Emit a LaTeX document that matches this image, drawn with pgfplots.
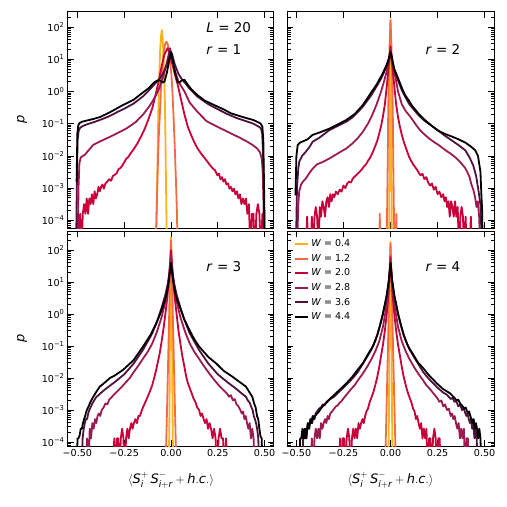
\documentclass[border=0pt]{standalone}
\usepackage{amsmath}
\usepackage{pgfplots}
\pgfplotsset{compat=1.18}
\usepackage{fontspec}
\setmainfont{DejaVu Sans}
\definecolor{cA}{HTML}{FCB31A}
\definecolor{cB}{HTML}{F26B46}
\definecolor{cC}{HTML}{C70039}
\definecolor{cD}{HTML}{9B1B50}
\definecolor{cE}{HTML}{4E1240}
\definecolor{cF}{HTML}{000000}
\pgfplotsset{
  wA/.style={color=cA,line width=1.8pt,line join=round},
  wB/.style={color=cB,line width=1.8pt,line join=round},
  wC/.style={color=cC,line width=1.8pt,line join=round},
  wD/.style={color=cD,line width=1.8pt,line join=round},
  wE/.style={color=cE,line width=1.8pt,line join=round},
  wF/.style={color=cF,line width=1.8pt,line join=round},
  myPanel/.style={
    scale only axis, anchor=north west,
    xmin=-0.55, xmax=0.55,
    xtick={-0.5,-0.25,0,0.25,0.5},
    ytick={1e-4,1e-3,1e-2,1e-1,1,10,100},
    minor ytick={2e-5,3e-5,4e-5,5e-5,6e-5,7e-5,8e-5,9e-5,2e-4,3e-4,4e-4,5e-4,6e-4,7e-4,8e-4,9e-4,2e-3,3e-3,4e-3,5e-3,6e-3,7e-3,8e-3,9e-3,0.02,0.03,0.04,0.05,0.06,0.07,0.08,0.09,0.2,0.3,0.4,0.5,0.6,0.7,0.8,0.9,2,3,4,5,6,7,8,9,20,30,40,50,60,70,80,90,200,300,400,500},
    tick align=inside, major tick length=6pt, minor tick length=3.5pt,
    tick style={black, line width=0.8pt},
    axis line style={line width=1pt},
    tick label style={font=\fontsize{9.6}{11}\selectfont},
    xticklabels={},
    yticklabels={},
  },
  myTop/.style={height=216.3pt, ymin=5.8e-5, ymax=298},
  myBot/.style={height=215pt, ymin=7.5e-5, ymax=393,
    xticklabels={−0.50,−0.25,0.00,0.25,0.50},
    xlabel={\fontsize{13}{15}\selectfont $\langle \textit{S}_{\textit{i}}^{+}\,\textit{S}_{\textit{i}+\textit{r}}^{-} + \textit{h}.\textit{c}.\rangle$},
    xlabel style={at={(axis description cs:0.5,-0.158)}, anchor=center}},
  myLeft/.style={width=206pt,
    yticklabels={10\textsuperscript{−4},10\textsuperscript{−3},10\textsuperscript{−2},10\textsuperscript{−1},10\textsuperscript{0},10\textsuperscript{1},10\textsuperscript{2}},
    ylabel={\fontsize{13}{15}\selectfont\textit{p}},
    ylabel style={at={(axis description cs:-0.223,0.5)}, anchor=center}},
  myRight/.style={width=207pt},
}
\begin{document}
\begin{tikzpicture}
\path[use as bounding box] (0pt,0pt) rectangle (507pt,-507pt);
% ---------------- r = 1 ----------------
\begin{axis}[ymode=log, myPanel, myTop, myLeft, at={(68pt,-11.7pt)}]
\addplot[wA] coordinates {(-0.082,1e-5) (-0.078,8e-5) (-0.074,1e-3) (-0.070,4e-2) (-0.066,0.6) (-0.062,4) (-0.058,18) (-0.054,50) (-0.049,80) (-0.045,50) (-0.041,18) (-0.037,4) (-0.033,0.6) (-0.030,5e-2) (-0.027,2e-3) (-0.024,1e-4) (-0.022,1e-5)};
\addplot[wB] coordinates {(-0.081,1e-5) (-0.078,8e-5) (-0.074,8e-4) (-0.069,1e-2) (-0.064,6e-2) (-0.058,0.3) (-0.052,2) (-0.046,6) (-0.039,16) (-0.032,28) (-0.025,35) (-0.018,30) (-0.011,18) (-0.004,7) (0.002,3.5) (0.008,0.9) (0.014,0.15) (0.020,2e-2) (0.026,2e-3) (0.031,2.5e-4) (0.036,1e-5)};
\addplot[wC] coordinates {(-0.505,1e-5) (-0.498,1.6e-4) (-0.492,1e-5) (-0.485,1.6e-4) (-0.478,1e-5) (-0.471,1.6e-4) (-0.464,3.2e-4) (-0.457,1.6e-4) (-0.450,4.8e-4) (-0.443,1.6e-4) (-0.436,4.8e-4) (-0.429,3.2e-4) (-0.422,6.4e-4) (-0.415,3.2e-4) (-0.408,8e-4) (-0.401,4.8e-4) (-0.394,6.4e-4) (-0.387,1.1e-3) (-0.380,8e-4) (-0.373,1.1e-3) (-0.366,1.3e-3) (-0.359,9.6e-4) (-0.350,1.4e-3) (-0.340,1.6e-3) (-0.330,1.9e-3) (-0.320,1.7e-3) (-0.310,2.4e-3) (-0.300,2.6e-3) (-0.290,2.9e-3) (-0.280,3.9e-3) (-0.270,4.2e-3) (-0.260,5e-3) (-0.250,6.3e-3) (-0.240,8e-3) (-0.230,9e-3) (-0.220,1.1e-2) (-0.200,1.6e-2) (-0.180,2.4e-2) (-0.160,4e-2) (-0.140,7e-2) (-0.120,0.14) (-0.100,0.3) (-0.080,0.9) (-0.065,2.2) (-0.050,6) (-0.035,14) (-0.018,22) (-0.008,16) (0.000,10) (0.010,6) (0.020,3.5) (0.036,1.6) (0.050,0.7) (0.072,0.19) (0.090,0.08) (0.107,0.045) (0.125,0.026) (0.142,0.017) (0.160,0.012) (0.180,8.5e-3) (0.195,6.6e-3) (0.210,5e-3) (0.225,4e-3) (0.235,3.6e-3) (0.248,2.5e-3) (0.256,2.8e-3) (0.264,1.9e-3) (0.272,2.2e-3) (0.280,1.6e-3) (0.288,1.9e-3) (0.296,1.3e-3) (0.304,1.4e-3) (0.312,9.6e-4) (0.320,1.1e-3) (0.328,8e-4) (0.336,9.6e-4) (0.344,6.4e-4) (0.352,8e-4) (0.360,4.8e-4) (0.368,6.4e-4) (0.376,3.2e-4) (0.384,4.8e-4) (0.392,3.2e-4) (0.400,4.8e-4) (0.408,1.6e-4) (0.416,3.2e-4) (0.424,1e-5) (0.432,1.6e-4) (0.440,1.6e-4) (0.448,1e-5) (0.456,1.6e-4) (0.464,3.2e-4) (0.472,1.6e-4) (0.480,1e-5) (0.488,1.6e-4) (0.496,1e-5)};
\addplot[wD] coordinates {(-0.498,1e-5) (-0.494,1e-3) (-0.489,6e-3) (-0.482,9e-3) (-0.470,1e-2) (-0.459,1.1e-2) (-0.440,1.5e-2) (-0.415,2.2e-2) (-0.380,2.8e-2) (-0.326,3.9e-2) (-0.280,5.3e-2) (-0.238,7.1e-2) (-0.190,0.11) (-0.150,0.19) (-0.120,0.32) (-0.100,0.48) (-0.079,0.78) (-0.060,1.4) (-0.045,2.5) (-0.030,5) (-0.015,12) (-0.005,22) (0.005,12) (0.020,4.5) (0.040,2.0) (0.072,1.0) (0.100,0.45) (0.142,0.23) (0.190,0.12) (0.230,0.09) (0.280,0.065) (0.320,0.05) (0.370,0.036) (0.410,0.027) (0.440,0.021) (0.460,0.017) (0.475,0.013) (0.485,8e-3) (0.490,3e-3) (0.494,3e-4) (0.497,1e-5)};
\addplot[wE] coordinates {(-0.507,1e-5) (-0.503,1e-3) (-0.499,3e-2) (-0.493,6e-2) (-0.485,7.5e-2) (-0.470,8.5e-2) (-0.450,9.5e-2) (-0.415,0.11) (-0.380,0.13) (-0.330,0.17) (-0.280,0.24) (-0.250,0.29) (-0.200,0.42) (-0.150,0.7) (-0.120,1.05) (-0.100,1.4) (-0.080,1.9) (-0.060,2.5) (-0.040,3.8) (-0.020,7.5) (-0.005,17) (0.005,15) (0.020,7) (0.040,3.5) (0.060,2.3) (0.080,1.7) (0.100,1.2) (0.140,0.7) (0.200,0.4) (0.250,0.28) (0.300,0.2) (0.350,0.15) (0.400,0.12) (0.440,0.1) (0.470,0.08) (0.480,0.072) (0.487,0.05) (0.492,1e-2) (0.496,1e-3) (0.500,1e-5)};
\addplot[wF] coordinates {(-0.504,1.6e-3) (-0.500,5e-2) (-0.495,9e-2) (-0.488,0.105) (-0.475,0.115) (-0.450,0.125) (-0.415,0.14) (-0.380,0.16) (-0.330,0.22) (-0.256,0.38) (-0.200,0.55) (-0.167,0.78) (-0.120,1.25) (-0.090,1.9) (-0.072,2.2) (-0.058,2.2) (-0.045,1.9) (-0.035,2.0) (-0.022,3.8) (-0.010,9) (0.000,17) (0.010,9) (0.022,3.8) (0.035,2.0) (0.045,1.9) (0.058,2.2) (0.072,2.3) (0.090,1.6) (0.110,1.15) (0.140,0.78) (0.180,0.52) (0.230,0.38) (0.280,0.28) (0.320,0.21) (0.370,0.17) (0.410,0.145) (0.440,0.13) (0.460,0.115) (0.478,0.102) (0.488,0.08) (0.493,3e-2) (0.497,1e-3) (0.499,1.2e-4) (0.500,1e-5)};
\node[anchor=west, font=\fontsize{13.5}{15}\selectfont] at (rel axis cs:0.655,0.926) {\textit{L} = 20};
\node[anchor=west, font=\fontsize{13.5}{15}\selectfont] at (rel axis cs:0.655,0.824) {\textit{r} = 1};
\end{axis}
% ---------------- r = 2 ----------------
\begin{axis}[ymode=log, myPanel, myTop, myRight, at={(287pt,-11.7pt)}]
\addplot[wA] coordinates {(-0.008,1e-5) (-0.005,1e-2) (-0.003,20) (0.000,170) (0.003,20) (0.005,1e-2) (0.008,1e-5)};
\addplot[wB] coordinates {(-0.060,1e-5) (-0.057,1.6e-4) (-0.054,1e-5) (-0.022,1e-5) (-0.018,2e-4) (-0.015,5e-3) (-0.012,0.3) (-0.008,5) (-0.004,40) (0.000,160) (0.004,40) (0.008,5) (0.012,0.3) (0.015,5e-3) (0.018,2e-4) (0.022,1e-5) (0.028,1e-5) (0.031,1.6e-4) (0.034,1e-5)};
\addplot[wC] coordinates {(-0.450,1e-5) (-0.443,1.3e-4) (-0.436,1e-5) (-0.425,1e-5) (-0.418,1.3e-4) (-0.411,1e-5) (-0.404,1.3e-4) (-0.397,2.6e-4) (-0.390,1.3e-4) (-0.383,1e-5) (-0.376,2.6e-4) (-0.369,1.3e-4) (-0.362,3.9e-4) (-0.355,2.6e-4) (-0.348,1.3e-4) (-0.341,3.9e-4) (-0.334,5.2e-4) (-0.327,2.6e-4) (-0.320,6.5e-4) (-0.313,3.9e-4) (-0.306,6.5e-4) (-0.299,5.2e-4) (-0.290,7.8e-4) (-0.280,6.5e-4) (-0.270,9e-4) (-0.260,7.8e-4) (-0.250,1.2e-3) (-0.240,1e-3) (-0.230,1.4e-3) (-0.220,1.6e-3) (-0.210,1.5e-3) (-0.200,2e-3) (-0.190,2.3e-3) (-0.180,2.6e-3) (-0.170,3e-3) (-0.160,3.4e-3) (-0.150,4e-3) (-0.140,4.8e-3) (-0.130,5.5e-3) (-0.120,7e-3) (-0.110,8.5e-3) (-0.100,1.1e-2) (-0.090,1.5e-2) (-0.080,2.1e-2) (-0.070,3e-2) (-0.060,5e-2) (-0.050,8.5e-2) (-0.040,0.17) (-0.030,0.4) (-0.020,1.4) (-0.010,6) (0.000,25) (0.010,6) (0.020,1.5) (0.030,0.4) (0.040,0.16) (0.050,8e-2) (0.060,4.5e-2) (0.070,2.8e-2) (0.080,1.9e-2) (0.090,1.3e-2) (0.100,9e-3) (0.110,7e-3) (0.120,5.5e-3) (0.130,4.6e-3) (0.140,3.8e-3) (0.150,3e-3) (0.160,2.5e-3) (0.170,2.8e-3) (0.180,1.9e-3) (0.190,2.2e-3) (0.200,1.5e-3) (0.210,1.2e-3) (0.220,1.4e-3) (0.230,9e-4) (0.240,1.1e-3) (0.250,6.5e-4) (0.260,7.8e-4) (0.270,5.2e-4) (0.280,6.5e-4) (0.287,3.9e-4) (0.294,5.2e-4) (0.301,2.6e-4) (0.308,3.9e-4) (0.315,1.3e-4) (0.322,3.9e-4) (0.329,2.6e-4) (0.336,1.3e-4) (0.343,3.9e-4) (0.350,1.3e-4) (0.357,2.6e-4) (0.364,1e-5) (0.371,1.3e-4) (0.378,2.6e-4) (0.385,1.3e-4) (0.392,1e-5) (0.399,1.3e-4) (0.406,1e-5) (0.420,1e-5) (0.427,1.3e-4) (0.434,1e-5)};
\addplot[wD] coordinates {(-0.497,1e-5) (-0.490,3e-4) (-0.485,8e-4) (-0.475,1.3e-3) (-0.465,1.6e-3) (-0.450,2e-3) (-0.430,3e-3) (-0.414,4e-3) (-0.390,5.5e-3) (-0.360,6.5e-3) (-0.325,8.3e-3) (-0.290,1.1e-2) (-0.260,1.4e-2) (-0.235,1.7e-2) (-0.200,2.5e-2) (-0.175,3.5e-2) (-0.147,5.6e-2) (-0.120,0.1) (-0.100,0.17) (-0.075,0.38) (-0.050,1.0) (-0.035,2) (-0.021,4) (-0.010,9) (0.000,20) (0.010,8) (0.025,3) (0.040,1.0) (0.060,0.4) (0.080,0.25) (0.100,0.18) (0.112,0.145) (0.140,0.085) (0.160,0.06) (0.183,0.045) (0.210,0.033) (0.235,0.026) (0.255,0.022) (0.280,0.017) (0.300,0.014) (0.326,0.011) (0.350,8.5e-3) (0.375,6e-3) (0.397,4.2e-3) (0.410,3e-3) (0.420,2.2e-3) (0.430,1.3e-3) (0.440,9e-4) (0.450,5e-4) (0.457,2.6e-4) (0.464,3.9e-4) (0.471,1.3e-4) (0.478,1e-5)};
\addplot[wE] coordinates {(-0.503,1e-5) (-0.497,1e-3) (-0.490,4e-3) (-0.485,6.6e-3) (-0.470,1e-2) (-0.450,1.35e-2) (-0.430,1.9e-2) (-0.414,2.75e-2) (-0.380,3.6e-2) (-0.325,6.3e-2) (-0.280,8.5e-2) (-0.235,0.115) (-0.200,0.16) (-0.170,0.24) (-0.147,0.34) (-0.120,0.55) (-0.100,0.8) (-0.075,1.4) (-0.050,2.5) (-0.030,4.5) (-0.015,7) (-0.005,12) (0.002,14) (0.010,8) (0.020,4.5) (0.040,2.2) (0.060,1.1) (0.077,0.7) (0.100,0.4) (0.112,0.33) (0.150,0.18) (0.183,0.12) (0.220,0.085) (0.255,0.06) (0.290,0.042) (0.326,0.03) (0.360,0.022) (0.397,0.015) (0.420,9e-3) (0.440,5e-3) (0.455,2.4e-3) (0.468,8e-4) (0.478,3e-4) (0.487,1e-5)};
\addplot[wF] coordinates {(-0.505,6e-4) (-0.500,1e-2) (-0.493,2.2e-2) (-0.480,2.6e-2) (-0.467,2.8e-2) (-0.440,3.3e-2) (-0.414,4.5e-2) (-0.370,5.5e-2) (-0.325,7e-2) (-0.280,9.5e-2) (-0.235,0.13) (-0.190,0.2) (-0.147,0.38) (-0.110,0.8) (-0.075,1.6) (-0.045,3.3) (-0.021,6.6) (-0.008,11) (0.000,17) (0.008,11) (0.020,5) (0.040,2.6) (0.060,1.3) (0.077,0.78) (0.100,0.5) (0.112,0.38) (0.150,0.2) (0.183,0.13) (0.220,0.085) (0.255,0.06) (0.290,0.048) (0.326,0.04) (0.360,0.033) (0.397,0.026) (0.425,0.02) (0.450,0.015) (0.465,0.01) (0.478,3.2e-3) (0.483,6e-4) (0.487,2e-4) (0.490,1e-5)};
\node[anchor=west, font=\fontsize{13.5}{15}\selectfont] at (rel axis cs:0.652,0.824) {\textit{r} = 2};
\end{axis}
% ---------------- r = 3 ----------------
\begin{axis}[ymode=log, myPanel, myBot, myLeft, at={(68pt,-231pt)}]
\addplot[wA] coordinates {(-0.012,1e-5) (-0.008,1e-3) (-0.005,1) (-0.003,50) (0.000,250) (0.003,50) (0.005,1) (0.008,1e-3) (0.012,1e-5)};
\addplot[wB] coordinates {(-0.030,1e-5) (-0.025,1.3e-4) (-0.020,2e-3) (-0.015,4e-2) (-0.010,0.8) (-0.005,20) (0.000,200) (0.005,20) (0.010,0.8) (0.015,4e-2) (0.020,2e-3) (0.025,1.3e-4) (0.030,1e-5)};
\addplot[wC] coordinates {(-0.310,1e-5) (-0.303,1.3e-4) (-0.296,1e-5) (-0.289,1.3e-4) (-0.282,1.3e-4) (-0.275,1e-5) (-0.268,1.3e-4) (-0.261,2.6e-4) (-0.254,1.3e-4) (-0.247,1e-5) (-0.240,1.3e-4) (-0.233,2.6e-4) (-0.226,1.3e-4) (-0.219,2.6e-4) (-0.212,3.9e-4) (-0.205,2.6e-4) (-0.198,3.9e-4) (-0.190,5.2e-4) (-0.182,3.9e-4) (-0.174,6.5e-4) (-0.166,6.5e-4) (-0.158,9e-4) (-0.150,1.2e-3) (-0.140,1.6e-3) (-0.130,2.2e-3) (-0.120,3e-3) (-0.110,4.2e-3) (-0.100,6e-3) (-0.090,1e-2) (-0.080,1.7e-2) (-0.070,3.2e-2) (-0.060,6e-2) (-0.050,0.14) (-0.040,0.35) (-0.030,1) (-0.020,3.2) (-0.010,15) (0.000,100) (0.010,15) (0.020,3.2) (0.030,1) (0.040,0.3) (0.050,0.12) (0.060,5e-2) (0.070,2.5e-2) (0.080,1.2e-2) (0.090,7e-3) (0.100,4.8e-3) (0.110,3.4e-3) (0.120,2.3e-3) (0.130,1.8e-3) (0.140,1.2e-3) (0.150,1e-3) (0.158,6.5e-4) (0.166,7.8e-4) (0.174,5.2e-4) (0.182,3.9e-4) (0.190,5.2e-4) (0.198,2.6e-4) (0.206,3.9e-4) (0.214,2.6e-4) (0.222,1.3e-4) (0.230,2.6e-4) (0.238,1.3e-4) (0.246,1e-5) (0.254,1.3e-4) (0.262,2.6e-4) (0.270,1.3e-4) (0.278,1.3e-4) (0.286,1e-5) (0.294,1.3e-4) (0.302,1e-5)};
\addplot[wD] coordinates {(-0.455,1e-5) (-0.448,1.3e-4) (-0.441,1e-5) (-0.434,2.6e-4) (-0.427,1.3e-4) (-0.420,3.9e-4) (-0.413,2.6e-4) (-0.406,5.2e-4) (-0.399,3.9e-4) (-0.392,6.5e-4) (-0.385,7.8e-4) (-0.378,6.5e-4) (-0.370,1e-3) (-0.360,1.2e-3) (-0.350,1.6e-3) (-0.340,1.5e-3) (-0.330,2.1e-3) (-0.320,2.4e-3) (-0.310,2.8e-3) (-0.300,3.2e-3) (-0.280,4.2e-3) (-0.260,5.5e-3) (-0.240,7.5e-3) (-0.220,1e-2) (-0.200,1.5e-2) (-0.175,2.4e-2) (-0.150,4e-2) (-0.125,6.5e-2) (-0.100,0.12) (-0.075,0.28) (-0.050,0.8) (-0.030,2.5) (-0.015,10) (0.000,60) (0.015,10) (0.030,2.5) (0.050,0.8) (0.075,0.28) (0.100,0.12) (0.125,6.5e-2) (0.150,4e-2) (0.175,2.4e-2) (0.200,1.5e-2) (0.220,1.05e-2) (0.240,7.5e-3) (0.260,5.5e-3) (0.280,4.2e-3) (0.300,3.2e-3) (0.310,2.6e-3) (0.320,2.9e-3) (0.330,2e-3) (0.340,2.2e-3) (0.350,1.5e-3) (0.360,1.3e-3) (0.370,1e-3) (0.378,7.8e-4) (0.385,9e-4) (0.392,5.2e-4) (0.399,6.5e-4) (0.406,3.9e-4) (0.413,2.6e-4) (0.420,3.9e-4) (0.427,1.3e-4) (0.434,2.6e-4) (0.441,1.3e-4) (0.448,1e-5)};
\addplot[wE] coordinates {(-0.478,1e-5) (-0.472,1.3e-4) (-0.466,2.6e-4) (-0.460,3.9e-4) (-0.454,5.2e-4) (-0.448,5.2e-4) (-0.442,7.8e-4) (-0.436,1e-3) (-0.430,1.2e-3) (-0.420,1.6e-3) (-0.410,2e-3) (-0.400,2.5e-3) (-0.380,3.2e-3) (-0.350,4.5e-3) (-0.300,7.5e-3) (-0.250,1.3e-2) (-0.200,2.8e-2) (-0.150,7.5e-2) (-0.100,0.25) (-0.070,0.7) (-0.050,1.6) (-0.030,4) (-0.015,10) (0.000,35) (0.015,10) (0.030,4) (0.050,1.6) (0.070,0.7) (0.100,0.25) (0.150,7.5e-2) (0.200,2.8e-2) (0.250,1.3e-2) (0.300,7.5e-3) (0.350,4.5e-3) (0.380,3.2e-3) (0.400,2.6e-3) (0.410,2e-3) (0.420,1.7e-3) (0.430,1.2e-3) (0.436,1e-3) (0.442,6.5e-4) (0.448,5.2e-4) (0.454,3.9e-4) (0.460,2.6e-4) (0.466,1.3e-4) (0.472,1e-5)};
\addplot[wF] coordinates {(-0.505,1e-5) (-0.499,1.3e-4) (-0.494,1.3e-4) (-0.488,1.6e-4) (-0.482,2.6e-4) (-0.476,2.6e-4) (-0.470,3.9e-4) (-0.464,5.2e-4) (-0.459,6.3e-4) (-0.452,9e-4) (-0.446,1.1e-3) (-0.440,1.3e-3) (-0.430,1.8e-3) (-0.415,2.6e-3) (-0.400,3.6e-3) (-0.380,5.4e-3) (-0.350,7.5e-3) (-0.326,1e-2) (-0.300,1.2e-2) (-0.256,1.8e-2) (-0.200,3.6e-2) (-0.150,9.5e-2) (-0.110,0.22) (-0.079,0.5) (-0.050,1.3) (-0.026,3.5) (-0.012,10) (0.000,40) (0.012,10) (0.026,3.5) (0.045,1.8) (0.070,0.7) (0.098,0.32) (0.125,0.16) (0.151,9.5e-2) (0.200,4.5e-2) (0.240,2.9e-2) (0.280,1.7e-2) (0.328,1.1e-2) (0.360,8e-3) (0.400,5.4e-3) (0.420,3.5e-3) (0.434,2.6e-3) (0.444,1.6e-3) (0.452,1.2e-3) (0.460,6.3e-4) (0.466,5.2e-4) (0.472,2.6e-4) (0.478,1.5e-4) (0.484,1.3e-4) (0.490,1e-5)};
\node[anchor=west, font=\fontsize{13.5}{15}\selectfont] at (rel axis cs:0.655,0.833) {\textit{r} = 3};
\end{axis}
% ---------------- r = 4 ----------------
\begin{axis}[ymode=log, myPanel, myBot, myRight, at={(287pt,-231pt)},
  legend style={at={(axis description cs:0.035,0.9695)}, anchor=north west, draw=none, fill=none,
    font=\fontsize{9.5}{11}\selectfont, row sep=2pt, inner sep=0pt},
  legend cell align=left,
  legend image code/.code={\draw[#1] (0pt,0pt) -- (13pt,0pt);}]
\addlegendimage{draw=cA, solid, line width=2pt}
\addlegendentry{\textit{W} = 0.4}
\addlegendimage{draw=cB, solid, line width=2pt}
\addlegendentry{\textit{W} = 1.2}
\addlegendimage{draw=cC, solid, line width=2pt}
\addlegendentry{\textit{W} = 2.0}
\addlegendimage{draw=cD, solid, line width=2pt}
\addlegendentry{\textit{W} = 2.8}
\addlegendimage{draw=cE, solid, line width=2pt}
\addlegendentry{\textit{W} = 3.6}
\addlegendimage{draw=cF, solid, line width=2pt}
\addlegendentry{\textit{W} = 4.4}
\addplot[wA, forget plot] coordinates {(-0.012,1e-5) (-0.008,1e-3) (-0.005,1) (-0.003,40) (0.000,180) (0.003,40) (0.005,1) (0.008,1e-3) (0.012,1e-5)};
\addplot[wB, forget plot] coordinates {(-0.030,1e-5) (-0.025,1.3e-4) (-0.020,2e-3) (-0.015,4e-2) (-0.010,0.8) (-0.005,20) (0.000,160) (0.005,20) (0.010,0.8) (0.015,4e-2) (0.020,2e-3) (0.025,1.3e-4) (0.030,1e-5)};
\addplot[wC, forget plot] coordinates {(-0.275,1e-5) (-0.268,1.3e-4) (-0.261,1e-5) (-0.254,1.3e-4) (-0.247,1.3e-4) (-0.240,1e-5) (-0.233,1.3e-4) (-0.226,2.6e-4) (-0.219,1.3e-4) (-0.212,1e-5) (-0.205,1.3e-4) (-0.198,2.6e-4) (-0.191,1.3e-4) (-0.184,2.6e-4) (-0.177,1.3e-4) (-0.170,3.9e-4) (-0.163,2.6e-4) (-0.156,3.9e-4) (-0.149,5.2e-4) (-0.142,3.9e-4) (-0.135,6.5e-4) (-0.128,9e-4) (-0.120,1.1e-3) (-0.110,1.8e-3) (-0.100,2.6e-3) (-0.090,3.8e-3) (-0.080,6.3e-3) (-0.070,1.1e-2) (-0.060,2.2e-2) (-0.050,5e-2) (-0.040,0.11) (-0.030,0.3) (-0.020,1) (-0.010,5) (0.000,60) (0.010,5) (0.020,1) (0.030,0.3) (0.040,0.11) (0.050,5e-2) (0.060,2.2e-2) (0.070,1.1e-2) (0.080,6.3e-3) (0.090,3.8e-3) (0.100,2.6e-3) (0.110,1.8e-3) (0.120,1.1e-3) (0.128,9e-4) (0.135,5.2e-4) (0.142,6.5e-4) (0.149,3.9e-4) (0.156,2.6e-4) (0.163,3.9e-4) (0.170,1.3e-4) (0.177,2.6e-4) (0.184,1.3e-4) (0.191,2.6e-4) (0.198,1e-5) (0.205,1.3e-4) (0.212,1.3e-4) (0.219,1e-5) (0.226,1.3e-4) (0.233,2.6e-4) (0.240,1.3e-4) (0.247,1e-5) (0.254,1.3e-4) (0.261,1.3e-4) (0.268,1e-5)};
\addplot[wD, forget plot] coordinates {(-0.425,1e-5) (-0.418,1.3e-4) (-0.411,1e-5) (-0.404,1.3e-4) (-0.397,2.6e-4) (-0.390,1.3e-4) (-0.383,2.6e-4) (-0.376,1.3e-4) (-0.369,3.9e-4) (-0.362,2.6e-4) (-0.355,3.9e-4) (-0.348,5.2e-4) (-0.341,3.9e-4) (-0.334,6.5e-4) (-0.327,5.2e-4) (-0.320,7.8e-4) (-0.310,9e-4) (-0.300,1.1e-3) (-0.290,1.3e-3) (-0.280,1.4e-3) (-0.270,1.7e-3) (-0.260,1.9e-3) (-0.250,2.3e-3) (-0.230,3.2e-3) (-0.210,4.5e-3) (-0.190,6e-3) (-0.170,9e-3) (-0.150,1.3e-2) (-0.125,2.2e-2) (-0.100,4e-2) (-0.080,7e-2) (-0.060,0.14) (-0.040,0.4) (-0.020,2) (-0.008,10) (0.000,40) (0.008,10) (0.020,2) (0.040,0.4) (0.060,0.14) (0.080,7e-2) (0.100,4e-2) (0.125,2.2e-2) (0.150,1.3e-2) (0.170,9e-3) (0.190,6e-3) (0.210,4.5e-3) (0.230,3.2e-3) (0.250,2.3e-3) (0.260,1.8e-3) (0.270,2e-3) (0.280,1.3e-3) (0.290,1.5e-3) (0.300,1e-3) (0.310,1.1e-3) (0.320,6.5e-4) (0.327,7.8e-4) (0.334,5.2e-4) (0.341,6.5e-4) (0.348,3.9e-4) (0.355,2.6e-4) (0.362,3.9e-4) (0.369,1.3e-4) (0.376,2.6e-4) (0.383,1.3e-4) (0.390,2.6e-4) (0.397,1e-5) (0.404,1.3e-4) (0.411,1.3e-4) (0.418,1e-5)};
\addplot[wE, forget plot] coordinates {(-0.470,1e-5) (-0.464,1.3e-4) (-0.458,1.3e-4) (-0.452,2.6e-4) (-0.446,1.3e-4) (-0.440,3.9e-4) (-0.434,2.6e-4) (-0.428,3.9e-4) (-0.422,5.2e-4) (-0.416,3.9e-4) (-0.410,6.5e-4) (-0.404,5.2e-4) (-0.398,7.8e-4) (-0.390,9e-4) (-0.380,1.1e-3) (-0.370,1.2e-3) (-0.360,1.5e-3) (-0.350,1.4e-3) (-0.340,1.8e-3) (-0.330,2e-3) (-0.320,2.2e-3) (-0.300,2.6e-3) (-0.280,3.4e-3) (-0.250,5e-3) (-0.220,7.5e-3) (-0.200,1e-2) (-0.175,1.5e-2) (-0.150,2.6e-2) (-0.125,4.5e-2) (-0.100,8e-2) (-0.080,0.15) (-0.060,0.35) (-0.040,1) (-0.020,3.5) (-0.008,12) (0.000,38) (0.008,12) (0.020,3.5) (0.040,1) (0.060,0.35) (0.080,0.15) (0.100,8e-2) (0.125,4.5e-2) (0.150,2.6e-2) (0.175,1.5e-2) (0.200,1e-2) (0.220,7.5e-3) (0.250,5e-3) (0.280,3.5e-3) (0.300,3e-3) (0.320,2.2e-3) (0.330,2.4e-3) (0.340,1.8e-3) (0.350,1.9e-3) (0.360,1.3e-3) (0.370,1.5e-3) (0.380,1e-3) (0.390,1.1e-3) (0.398,7.8e-4) (0.404,6.5e-4) (0.410,7.8e-4) (0.416,5.2e-4) (0.422,3.9e-4) (0.428,5.2e-4) (0.434,2.6e-4) (0.440,3.9e-4) (0.446,1.3e-4) (0.452,2.6e-4) (0.458,1.3e-4) (0.464,1e-5)};
\addplot[wF, forget plot] coordinates {(-0.486,1e-5) (-0.480,1.3e-4) (-0.474,1.3e-4) (-0.468,2.6e-4) (-0.462,1.3e-4) (-0.456,2.6e-4) (-0.450,1.3e-4) (-0.444,2.6e-4) (-0.438,3.9e-4) (-0.432,2.6e-4) (-0.426,5.2e-4) (-0.420,3.9e-4) (-0.414,6.5e-4) (-0.408,5.2e-4) (-0.400,6.5e-4) (-0.390,7.8e-4) (-0.380,9e-4) (-0.370,1.1e-3) (-0.360,1.3e-3) (-0.350,1.5e-3) (-0.340,1.7e-3) (-0.320,2.3e-3) (-0.300,2.9e-3) (-0.280,3.8e-3) (-0.250,5.5e-3) (-0.218,8.7e-3) (-0.200,1.15e-2) (-0.175,1.8e-2) (-0.147,2.9e-2) (-0.120,5.5e-2) (-0.093,0.1) (-0.070,0.22) (-0.050,0.6) (-0.040,1.05) (-0.020,4) (-0.008,12) (0.000,40) (0.008,12) (0.020,4) (0.040,1.05) (0.050,0.6) (0.070,0.22) (0.093,0.1) (0.120,5.5e-2) (0.147,3e-2) (0.175,2e-2) (0.200,1.3e-2) (0.246,6.8e-3) (0.280,4.5e-3) (0.317,3.3e-3) (0.340,2.4e-3) (0.350,2e-3) (0.360,2.1e-3) (0.370,1.6e-3) (0.380,1.4e-3) (0.390,1.1e-3) (0.400,1.2e-3) (0.410,8e-4) (0.418,9e-4) (0.424,6.5e-4) (0.430,5.2e-4) (0.436,3.9e-4) (0.442,5.2e-4) (0.448,2.6e-4) (0.454,3.9e-4) (0.460,2.6e-4) (0.466,1.3e-4) (0.472,2.6e-4) (0.478,1.3e-4) (0.484,1e-5)};
\node[anchor=west, font=\fontsize{13.5}{15}\selectfont] at (rel axis cs:0.652,0.833) {\textit{r} = 4};
\end{axis}
\end{tikzpicture}
\end{document}
